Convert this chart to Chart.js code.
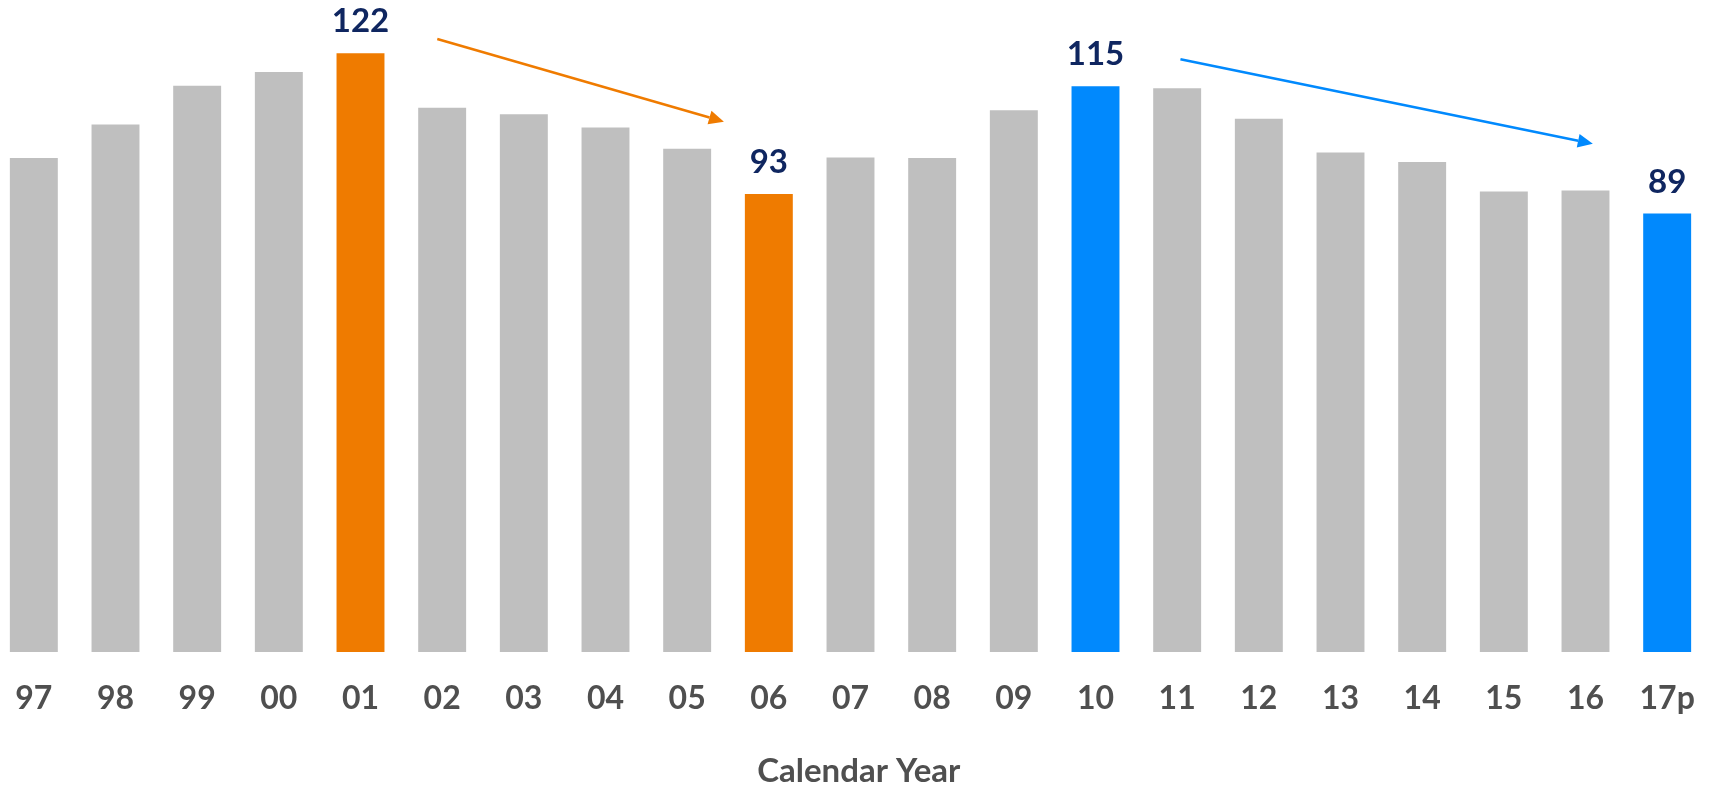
<!DOCTYPE html>
<html lang="en">
<head>
    <meta charset="UTF-8">
    <title>Calendar Year</title>
    <script src="https://cdn.jsdelivr.net/npm/chart.js"></script>
    <style>
        body {
            margin: 0;
            background-color: #ffffff;
            overflow: hidden;
        }
        .chart-container {
            position: absolute;
            left: -7px;
            top: 0;
            width: 1722px;
            height: 791px;
        }
    </style>
</head>
<body>
    <div class="chart-container">
        <canvas id="yearChart"></canvas>
    </div>

    <script>
        // values
        const years = ['97', '98', '99', '00', '01', '02', '03', '04', '05', '06', '07',
                       '08', '09', '10', '11', '12', '13', '14', '15', '16', '17p'];
        const values = [100.5, 107.3, 115.2, 118.0, 121.8, 110.7, 109.4, 106.7, 102.4, 93.2, 100.6,
                        100.5, 110.2, 115.1, 114.7, 108.5, 101.6, 99.7, 93.7, 93.9, 89.2];
        const orangeYears = ['01', '06'];
        const blueYears = ['10', '17p'];
        // arrows: [from category index, from value, to category index, to value]
        const orangeArrow = [4.94, 124.7, 8.45, 107.9];
        const blueArrow = [14.04, 120.6, 19.09, 103.4];

        const grey = '#bfbfbf';
        const orange = '#ef7b00';
        const blue = '#0189fd';
        const navy = '#0f2660';
        const textGrey = '#4f4f4f';

        const barColors = years.map(function (y) {
            if (orangeYears.includes(y)) return orange;
            if (blueYears.includes(y)) return blue;
            return grey;
        });

        // value labels over the coloured bars + the two trend arrows
        const annotations = {
            id: 'annotations',
            afterDatasetsDraw(chart) {
                const ctx = chart.ctx;
                const xs = chart.scales.x;
                const ys = chart.scales.y;
                const meta = chart.getDatasetMeta(0);

                ctx.save();
                ctx.font = 'bold 33px Lato';
                ctx.fillStyle = navy;
                ctx.textAlign = 'center';
                ctx.textBaseline = 'alphabetic';
                years.forEach(function (y, i) {
                    if (orangeYears.includes(y) || blueYears.includes(y)) {
                        const bar = meta.data[i];
                        ctx.fillText(Math.round(values[i]), bar.x, bar.y - 21);
                    }
                });

                function arrow(a, color) {
                    const x1 = xs.getPixelForValue(a[0]);
                    const y1 = ys.getPixelForValue(a[1]);
                    const x2 = xs.getPixelForValue(a[2]);
                    const y2 = ys.getPixelForValue(a[3]);
                    const ang = Math.atan2(y2 - y1, x2 - x1);
                    const len = 15, half = 7;
                    const bx = x2 - len * Math.cos(ang);
                    const by = y2 - len * Math.sin(ang);
                    ctx.strokeStyle = color;
                    ctx.fillStyle = color;
                    ctx.lineWidth = 2.5;
                    ctx.beginPath();
                    ctx.moveTo(x1, y1);
                    ctx.lineTo(bx, by);
                    ctx.stroke();
                    ctx.beginPath();
                    ctx.moveTo(x2, y2);
                    ctx.lineTo(bx + half * Math.sin(ang), by - half * Math.cos(ang));
                    ctx.lineTo(bx - half * Math.sin(ang), by + half * Math.cos(ang));
                    ctx.closePath();
                    ctx.fill();
                }
                arrow(orangeArrow, orange);
                arrow(blueArrow, blue);
                ctx.restore();
            }
        };

        const ctx = document.getElementById('yearChart').getContext('2d');
        const yearChart = new Chart(ctx, {
            type: 'bar',
            data: {
                labels: years,
                datasets: [{
                    data: values,
                    backgroundColor: barColors,
                    categoryPercentage: 1.0,
                    barPercentage: 0.587
                }]
            },
            options: {
                responsive: true,
                maintainAspectRatio: false,
                animation: false,
                layout: {
                    padding: { top: 13, left: 0, right: 7, bottom: 0 }
                },
                plugins: {
                    legend: { display: false },
                    tooltip: { enabled: false }
                },
                scales: {
                    x: {
                        // invisible tick marks give the gap under the bars
                        grid: {
                            display: true,
                            drawOnChartArea: false,
                            drawTicks: true,
                            tickLength: 27,
                            color: 'rgba(0,0,0,0)'
                        },
                        border: { display: false },
                        ticks: {
                            color: textGrey,
                            padding: 0,
                            font: { family: 'Lato', size: 32, weight: 'bold' }
                        },
                        title: {
                            display: true,
                            text: '\u2002Calendar Year',
                            color: textGrey,
                            padding: { top: 34, bottom: 0 },
                            font: { family: 'Lato', size: 33, weight: 'bold' }
                        }
                    },
                    y: {
                        display: false,
                        min: 0,
                        max: 130
                    }
                }
            },
            plugins: [annotations]
        });
    </script>
</body>
</html>
